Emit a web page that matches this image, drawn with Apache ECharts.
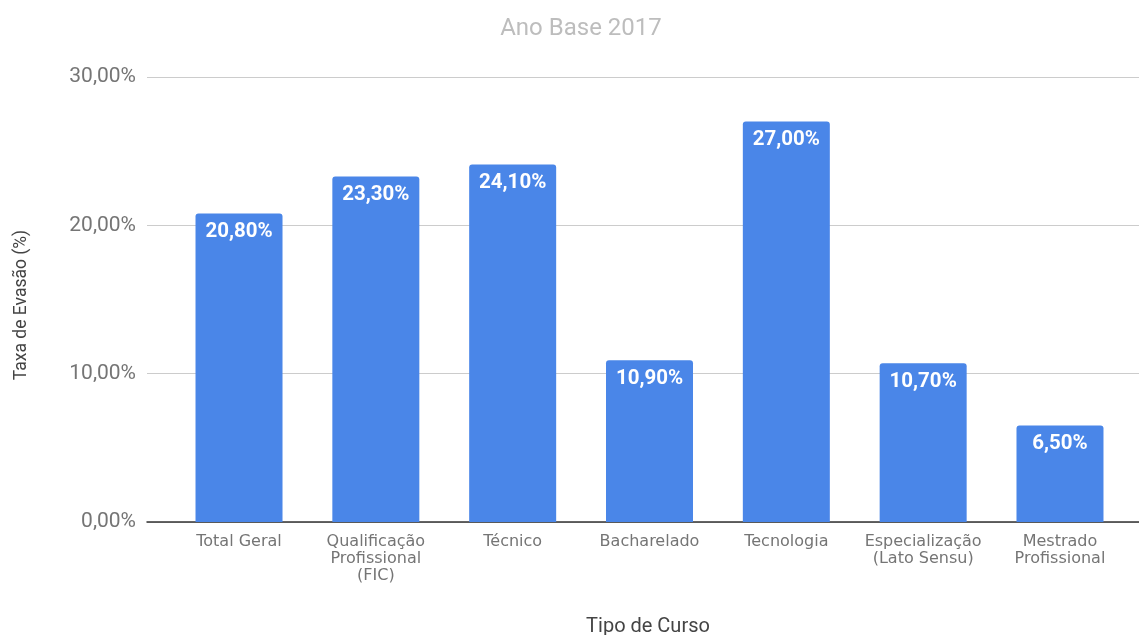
<!DOCTYPE html>
<html>
<head>
<meta charset="utf-8">
<script src="https://cdn.jsdelivr.net/npm/echarts@6/dist/echarts.min.js"></script>
<style>html,body{margin:0;padding:0;background:#fff}#c{width:1139px;height:635px}</style>
</head>
<body>
<div id="c"></div>
<script>
const categories = ["Total Geral", "Qualificação\nProfissional\n(FIC)", "Técnico", "Bacharelado", "Tecnologia", "Especialização\n(Lato Sensu)", "Mestrado\nProfissional"];
const values = [0.208, 0.233, 0.241, 0.109, 0.270, 0.107, 0.065];
const yTicks = [0, 0.1, 0.2, 0.3];
const titleText = "Ano Base 2017";
const yName = "Taxa de Evasão (%)";
const xName = "Tipo de Curso";

const fmt = v => (v * 100).toFixed(2).replace('.', ',') + '%';

const chart = echarts.init(document.getElementById('c'), null, {renderer: 'canvas'});
chart.setOption({
  animation: false,
  graphic: [
    {type: 'text', x: 581, y: 29, style: {text: titleText, fill: '#bdbdbd', font: '24px Roboto', align: 'center', verticalAlign: 'middle'}},
    {type: 'text', x: 648, y: 627, style: {text: xName, fill: '#444', font: '20px Roboto', align: 'center', verticalAlign: 'middle'}},
    {type: 'text', x: 22, y: 305, rotation: Math.PI / 2, style: {text: yName, fill: '#444', font: '17.5px Roboto', align: 'center', verticalAlign: 'middle'}}
  ],
  grid: [
    {left: 147, right: 0, top: 77, bottom: 113},
    {left: 170.6, right: 10.6, top: 77, bottom: 113}
  ],
  xAxis: [
    {gridIndex: 0, type: 'value', min: 0, max: 1, axisLabel: {show: false}, axisTick: {show: false}, splitLine: {show: false},
     axisLine: {show: true, lineStyle: {color: '#333', width: 1.5}}},
    {gridIndex: 1, type: 'category', data: categories, axisLine: {show: false}, axisTick: {show: false},
     axisLabel: {interval: 0, color: '#757575', fontFamily: 'DejaVu Sans', fontSize: 16, lineHeight: 17, margin: 11}}
  ],
  yAxis: [
    {gridIndex: 0, type: 'value', min: 0, max: 0.3, interval: 0.1,
     axisLine: {show: false}, axisTick: {show: false},
     axisLabel: {formatter: fmt, color: '#757575', fontSize: 21, fontFamily: 'Roboto', margin: 11},
     splitLine: {lineStyle: {color: '#cccccc', width: 1}}},
    {gridIndex: 1, type: 'value', min: 0, max: 0.3, show: false}
  ],
  series: [{
    type: 'bar', xAxisIndex: 1, yAxisIndex: 1, data: values, barWidth: 87,
    itemStyle: {color: '#4a86e8', borderRadius: [3, 3, 0, 0]},
    label: {show: true, position: 'insideTop', distance: 8, formatter: p => fmt(p.value),
      color: '#fff', fontSize: 20.5, fontWeight: 'bold', fontFamily: 'Roboto'}
  }]
});
</script>
</body>
</html>
